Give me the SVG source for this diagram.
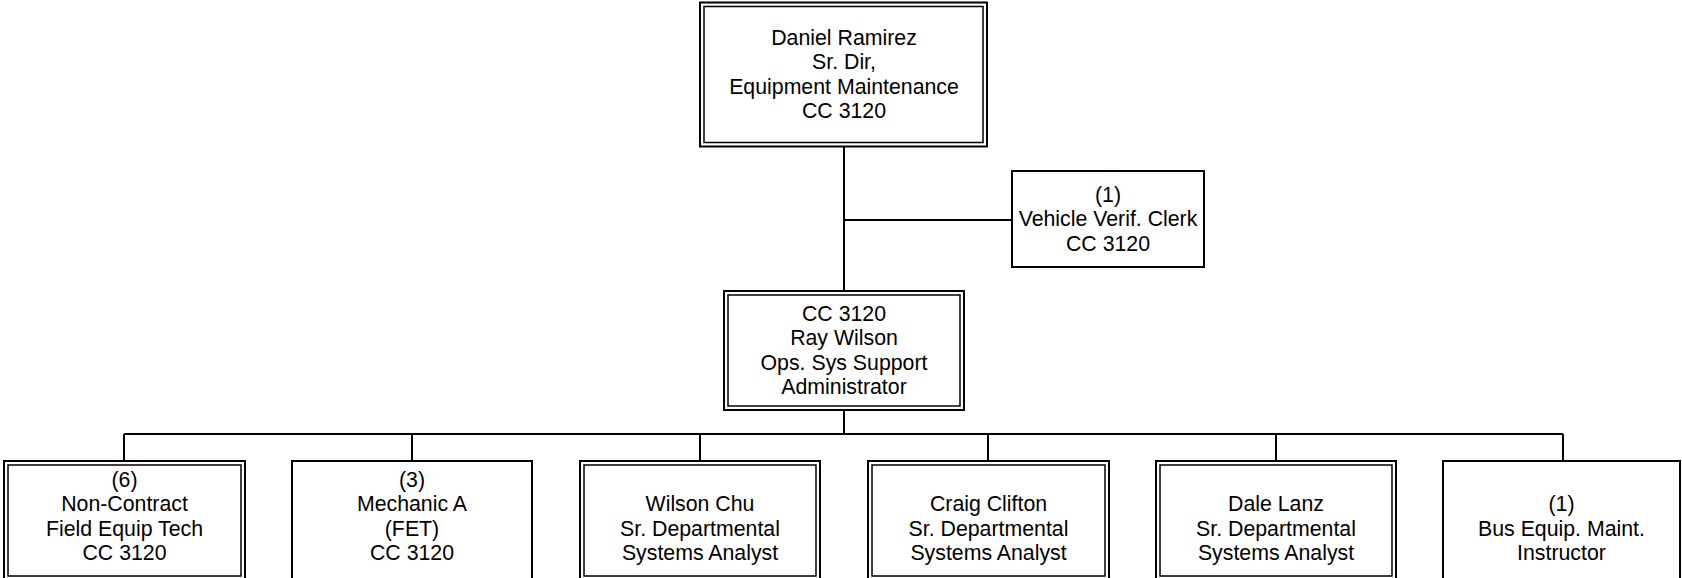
<svg xmlns="http://www.w3.org/2000/svg" width="1682" height="578" viewBox="0 0 1682 578">
<style>
  .o { fill: #fff; stroke: #000; stroke-width: 2; }
  .i { fill: none; stroke: #000; stroke-width: 1.5; }
  .s { fill: #fff; stroke: #000; stroke-width: 2; }
  .c { fill: none; stroke: #000; stroke-width: 2; }
  text { font-family: "Liberation Sans", Arial, sans-serif; font-size: 21.3px; fill: #000; text-anchor: middle; }
</style>
<rect width="1682" height="578" fill="#fff"/>
<g id="connectors">
  <line class="c" x1="844" y1="147" x2="844" y2="291"/>
  <line class="c" x1="844" y1="220" x2="1012" y2="220"/>
  <line class="c" x1="844" y1="410" x2="844" y2="434"/>
  <line class="c" x1="124" y1="434" x2="1563" y2="434"/>
  <line class="c" x1="124" y1="434" x2="124" y2="461"/>
  <line class="c" x1="412" y1="434" x2="412" y2="461"/>
  <line class="c" x1="700" y1="434" x2="700" y2="461"/>
  <line class="c" x1="988" y1="434" x2="988" y2="461"/>
  <line class="c" x1="1276" y1="434" x2="1276" y2="461"/>
  <line class="c" x1="1563" y1="434" x2="1563" y2="461"/>
</g>
<g id="daniel">
  <rect class="o" x="700" y="2.5" width="287" height="144"/>
  <rect class="i" x="704" y="6.5" width="279" height="136"/>
  <text x="844" y="44.5">Daniel Ramirez</text>
  <text x="844" y="69">Sr. Dir,</text>
  <text x="844" y="93.5">Equipment Maintenance</text>
  <text x="844" y="118">CC 3120</text>
</g>
<g id="clerk">
  <rect class="s" x="1012" y="171" width="192" height="96"/>
  <text x="1108" y="201.5">(1)</text>
  <text x="1108" y="226">Vehicle Verif. Clerk</text>
  <text x="1108" y="250.5">CC 3120</text>
</g>
<g id="ray">
  <rect class="o" x="724" y="291" width="240" height="119"/>
  <rect class="i" x="728" y="295" width="232" height="111"/>
  <text x="844" y="320.5">CC 3120</text>
  <text x="844" y="345">Ray Wilson</text>
  <text x="844" y="369.5">Ops. Sys Support</text>
  <text x="844" y="394">Administrator</text>
</g>
<g id="fet">
  <rect class="o" x="4" y="461" width="241" height="120"/>
  <rect class="i" x="8" y="465" width="233" height="111"/>
  <text x="124.5" y="486.5">(6)</text>
  <text x="124.5" y="511">Non-Contract</text>
  <text x="124.5" y="535.5">Field Equip Tech</text>
  <text x="124.5" y="560">CC 3120</text>
</g>
<g id="mechanic">
  <rect class="s" x="292" y="461" width="240" height="125"/>
  <text x="412" y="486.5">(3)</text>
  <text x="412" y="511">Mechanic A</text>
  <text x="412" y="535.5">(FET)</text>
  <text x="412" y="560">CC 3120</text>
</g>
<g id="chu">
  <rect class="o" x="580" y="461" width="240" height="120"/>
  <rect class="i" x="584" y="465" width="232" height="111"/>
  <text x="700" y="511">Wilson Chu</text>
  <text x="700" y="535.5">Sr. Departmental</text>
  <text x="700" y="560">Systems Analyst</text>
</g>
<g id="clifton">
  <rect class="o" x="868" y="461" width="241" height="120"/>
  <rect class="i" x="872" y="465" width="233" height="111"/>
  <text x="988.5" y="511">Craig Clifton</text>
  <text x="988.5" y="535.5">Sr. Departmental</text>
  <text x="988.5" y="560">Systems Analyst</text>
</g>
<g id="lanz">
  <rect class="o" x="1156" y="461" width="240" height="120"/>
  <rect class="i" x="1160" y="465" width="232" height="111"/>
  <text x="1276" y="511">Dale Lanz</text>
  <text x="1276" y="535.5">Sr. Departmental</text>
  <text x="1276" y="560">Systems Analyst</text>
</g>
<g id="instructor">
  <rect class="s" x="1443" y="461" width="237" height="125"/>
  <text x="1561.5" y="511">(1)</text>
  <text x="1561.5" y="535.5">Bus Equip. Maint.</text>
  <text x="1561.5" y="560">Instructor</text>
</g>
</svg>
